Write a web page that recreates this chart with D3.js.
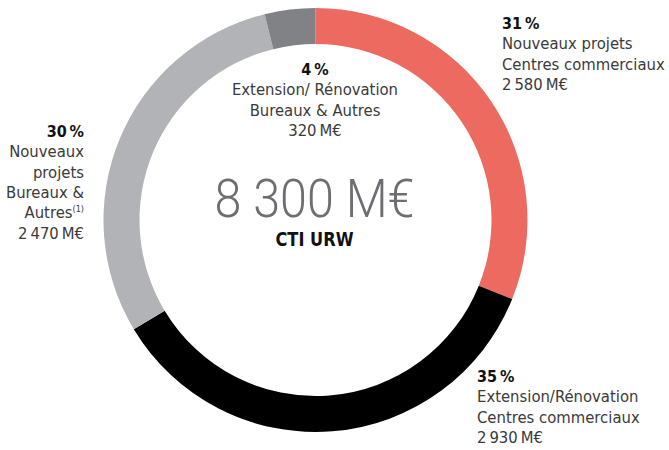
<!DOCTYPE html>
<html>
<head>
<meta charset="utf-8">
<script src="https://cdn.jsdelivr.net/npm/d3@7"></script>
<style>
  html, body { margin: 0; padding: 0; background: #fff; }
  svg { display: block; font-family: "Liberation Sans Narrow", "DejaVu Sans Condensed", "Roboto", sans-serif; }
  .lbl { fill: #3a3a3a; font-size: 16.5px; }
  .pct { fill: #111; font-weight: bold; font-size: 16px; }
</style>
</head>
<body>
<div id="chart"></div>
<script>
// Data
const categories = [
  "Nouveaux projets Centres commerciaux",
  "Extension/Rénovation Centres commerciaux",
  "Nouveaux projets Bureaux & Autres",
  "Extension/ Rénovation Bureaux & Autres"
];
const amounts = [2580, 2930, 2470, 320];          // M€
const percents = ["31\u2009%", "35\u2009%", "30\u2009%", "4\u2009%"];
const amountLabels = ["2\u2009580\u2009M€", "2\u2009930\u2009M€", "2\u2009470\u2009M€", "320\u2009M€"];
const colors = ["#ec6a5f", "#000000", "#b1b3b6", "#808285"];
const totalLabel = "8 300 M€";
const subTitle = "CTI URW";

const width = 669, height = 450;
const cx = 315.5, cy = 220;
const outerR = 212, innerR = 176;

const svg = d3.select("#chart").append("svg")
  .attr("width", width).attr("height", height);

const g = svg.append("g").attr("transform", `translate(${cx},${cy})`);

// Donut
const pie = d3.pie().sort(null).value(d => d)(amounts);
const arc = d3.arc().innerRadius(innerR).outerRadius(outerR);

g.selectAll("path.slice")
  .data(pie)
  .join("path")
  .attr("class", "slice")
  .attr("fill", (d, i) => colors[i])
  .attr("d", arc);

// Centre text
g.append("text")
  .attr("x", -1).attr("y", -3)
  .attr("text-anchor", "middle")
  .attr("fill", "#6d6e71")
  .attr("font-family", "Roboto, sans-serif")
  .attr("font-weight", 300)
  .attr("font-size", 53)
  .attr("textLength", 200)
  .attr("lengthAdjust", "spacingAndGlyphs")
  .text(totalLabel);

g.append("text")
  .attr("x", -1).attr("y", 26)
  .attr("text-anchor", "middle")
  .attr("fill", "#111")
  .attr("font-weight", "bold")
  .attr("font-size", 19)
  .attr("textLength", 78)
  .attr("lengthAdjust", "spacingAndGlyphs")
  .text(subTitle);

// Slice labels: [x, y of first baseline, anchor, lines]
const labelLayout = [
  { x: 502, y: 29, anchor: "start", lines: ["Nouveaux projets", "Centres commerciaux"] },
  { x: 477, y: 382, anchor: "start", lines: ["Extension/Rénovation", "Centres commerciaux"] },
  { x: 84, y: 137, anchor: "end", lines: ["Nouveaux", "projets", "Bureaux &", "Autres"] },
  { x: 315, y: 75, anchor: "middle", lines: ["Extension/ Rénovation", "Bureaux & Autres"] }
];
const lineH = 20.3;

labelLayout.forEach((L, i) => {
  const t = svg.append("text")
    .attr("text-anchor", L.anchor);
  t.append("tspan").attr("class", "pct").attr("x", L.x).attr("y", L.y).text(percents[i]);
  L.lines.forEach((line, j) => {
    const ts = t.append("tspan").attr("class", "lbl")
      .attr("x", L.x).attr("y", L.y + lineH * (j + 1)).text(line);
    if (i === 2 && j === L.lines.length - 1) {
      ts.append("tspan").attr("font-size", 9).attr("dy", -6).text("(1)");
    }
  });
  t.append("tspan").attr("class", "lbl")
    .attr("x", L.x).attr("y", L.y + lineH * (L.lines.length + 1))
    .text(amountLabels[i]);
});
</script>
</body>
</html>
